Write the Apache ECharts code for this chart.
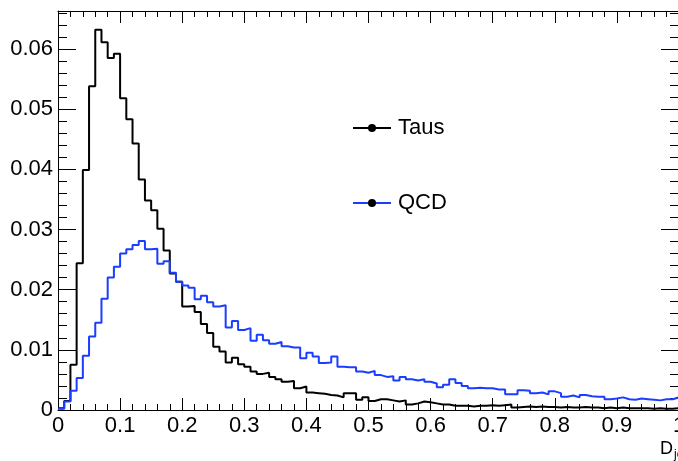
<!DOCTYPE html>
<html>
<head>
<meta charset="utf-8">
<script src="https://cdn.jsdelivr.net/npm/echarts@6/dist/echarts.min.js"></script>
<style>
  html, body { margin: 0; padding: 0; background: #fff; }
  #chart { width: 678px; height: 461px; }
</style>
</head>
<body>
<div id="chart"></div>
<script>
// Histogram binning: 100 equal bins on [0, 1]
const nBins = 100;
const xMin = 0;
const xMax = 1;

// Normalised bin contents, bin 0 .. bin 99
const tausValues = [
  0.0003, 0.0015, 0.0075, 0.0244, 0.0399, 0.0538, 0.0632, 0.0611, 0.0585, 0.0592,
  0.0518, 0.0483, 0.0443, 0.0383, 0.0348, 0.0332, 0.0301, 0.0265, 0.0227, 0.0213,
  0.0172, 0.0173, 0.0163, 0.0143, 0.0128, 0.0105, 0.0097, 0.0079, 0.0087, 0.0076,
  0.0072, 0.0064, 0.0060, 0.0062, 0.0055, 0.0051, 0.0047, 0.0048, 0.0036, 0.0039,
  0.0029, 0.0028, 0.0027, 0.0025, 0.0024, 0.0021, 0.0028, 0.0028, 0.0017, 0.0021,
  0.0015, 0.0018, 0.0018, 0.0016, 0.0014, 0.0016, 0.0009, 0.0011, 0.0014, 0.0013,
  0.0011, 0.0009, 0.0009, 0.0007, 0.0007, 0.0007, 0.0006, 0.0007, 0.0007, 0.0008,
  0.0007, 0.0008, 0.0009, 0.0004, 0.0005, 0.0006, 0.0005, 0.0006, 0.0005, 0.0005,
  0.0004, 0.0005, 0.0004, 0.0004, 0.0005, 0.0004, 0.0004, 0.0003, 0.0004, 0.0003,
  0.0004, 0.0003, 0.0003, 0.0003, 0.0003, 0.0002, 0.0003, 0.0002, 0.0002, 0.0003
];

const qcdValues = [
  0.0002, 0.0014, 0.0032, 0.0053, 0.0090, 0.0122, 0.0145, 0.0185, 0.0220, 0.0238,
  0.0260, 0.0267, 0.0274, 0.0281, 0.0267, 0.0268, 0.0243, 0.0247, 0.0228, 0.0213,
  0.0207, 0.0203, 0.0184, 0.0190, 0.0179, 0.0172, 0.0174, 0.0137, 0.0148, 0.0133,
  0.0136, 0.0115, 0.0125, 0.0116, 0.0110, 0.0113, 0.0106, 0.0104, 0.0104, 0.0086,
  0.0095, 0.0089, 0.0078, 0.0079, 0.0089, 0.0072, 0.0071, 0.0071, 0.0064, 0.0062,
  0.0065, 0.0058, 0.0055, 0.0056, 0.0049, 0.0055, 0.0051, 0.0049, 0.0051, 0.0047,
  0.0044, 0.0038, 0.0042, 0.0051, 0.0045, 0.0040, 0.0036, 0.0037, 0.0036, 0.0036,
  0.0034, 0.0034, 0.0026, 0.0026, 0.0033, 0.0032, 0.0028, 0.0029, 0.0026, 0.0031,
  0.0028, 0.0022, 0.0024, 0.0021, 0.0025, 0.0023, 0.0022, 0.0022, 0.0018, 0.0019,
  0.0021, 0.0018, 0.0017, 0.0019, 0.0018, 0.0017, 0.0016, 0.0018, 0.0018, 0.0021
];

const seriesNames = ['Taus', 'QCD'];
const yMax = 0.0663;

// Lower bin edges
const binWidth = (xMax - xMin) / nBins;
const binEdges = [];
for (let i = 0; i <= nBins; i++) binEdges.push(+(xMin + i * binWidth).toFixed(4));

// Step outline: each bin drawn flat from its lower edge to the next edge
function outline(values) {
  const pts = values.map((v, i) => [binEdges[i], v]);
  pts.push([binEdges[nBins], values[values.length - 1]]);
  return pts;
}

const FONT = 'Liberation Sans, Arial, Helvetica, sans-serif';

function xAxisDef(position, showLabels) {
  return {
    type: 'value', position: position, min: xMin, max: xMax, interval: 0.1,
    axisLine: { show: true, onZero: false, lineStyle: { color: '#000', width: 1 } },
    axisTick: { show: true, inside: true, length: 12, lineStyle: { color: '#000', width: 1 } },
    minorTick: { show: true, splitNumber: 5, length: 6, lineStyle: { color: '#000', width: 1 } },
    splitLine: { show: false },
    axisLabel: { show: showLabels, color: '#000', fontFamily: FONT, fontSize: 22, margin: 5 }
  };
}

function yAxisDef(position, showLabels) {
  return {
    type: 'value', position: position, min: 0, max: yMax, interval: 0.01,
    axisLine: { show: true, onZero: false, lineStyle: { color: '#000', width: 1 } },
    axisTick: { show: true, inside: true, length: 18, lineStyle: { color: '#000', width: 1 } },
    minorTick: { show: true, splitNumber: 5, length: 9, lineStyle: { color: '#000', width: 1 } },
    splitLine: { show: false },
    axisLabel: { show: showLabels, showMaxLabel: false, color: '#000', fontFamily: FONT, fontSize: 22, margin: 5 }
  };
}

function histSeries(name, values, color) {
  return {
    name: name, type: 'line', step: 'end', data: outline(values),
    xAxisIndex: 0, yAxisIndex: 0,
    symbol: 'circle', showSymbol: false,
    itemStyle: { color: '#000' },
    lineStyle: { color: color, width: 2 },
    emphasis: { disabled: true },
    clip: true
  };
}

function legendDef(name, top) {
  return {
    data: [name], orient: 'vertical', left: 352, top: top,
    itemWidth: 38, itemHeight: 10, itemGap: 0, padding: 0,
    selectedMode: false,
    textStyle: { color: '#000', fontFamily: FONT, fontSize: 22, padding: [0, 0, 0, 2] }
  };
}

const chart = echarts.init(document.getElementById('chart'), null, { renderer: 'canvas' });
chart.setOption({
  animation: false,
  backgroundColor: '#fff',
  grid: { left: 58, top: 11, width: 621, height: 399, containLabel: false, outerBoundsMode: 'none' },
  xAxis: [xAxisDef('bottom', true), xAxisDef('top', false)],
  yAxis: [yAxisDef('left', true), yAxisDef('right', false)],
  legend: [legendDef(seriesNames[0], 117), legendDef(seriesNames[1], 192)],
  series: [
    histSeries(seriesNames[0], tausValues, '#000'),
    histSeries(seriesNames[1], qcdValues, '#1a3dff')
  ],
  graphic: [
    { type: 'text', left: 660, top: 440, style: { text: 'D', fill: '#000', font: '18px ' + FONT } },
    { type: 'text', left: 674, top: 449, style: { text: 'jet', fill: '#000', font: '12px ' + FONT } }
  ]
});
</script>
</body>
</html>
